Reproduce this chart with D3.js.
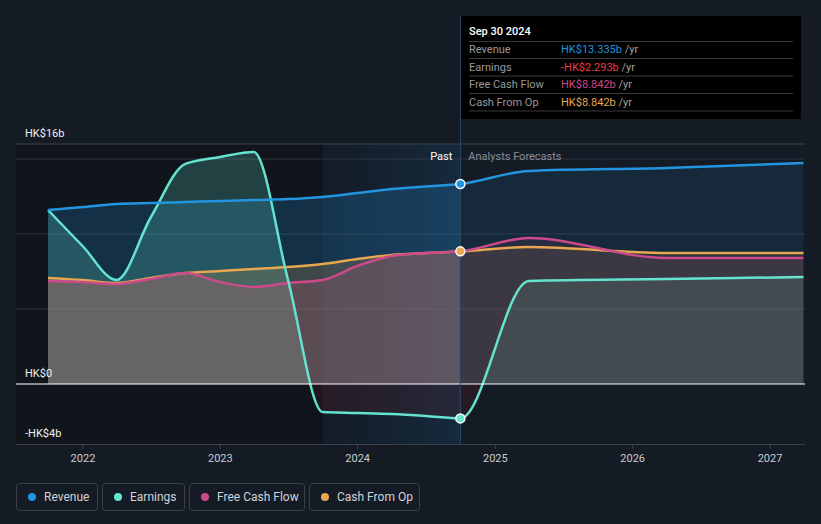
<!DOCTYPE html>
<html><head><meta charset="utf-8">
<script src="https://cdn.jsdelivr.net/npm/d3@7"></script>
<style>
html,body{margin:0;padding:0;background:#151b25;}
svg{display:block;font-family:Roboto,"Open Sans",sans-serif;}
</style></head>
<body><svg id="c" width="821" height="524"></svg>
<script>
const dates = ["2021-09-30","2021-12-31","2022-03-31","2022-06-30","2022-09-30","2022-12-31","2023-03-31","2023-06-30","2023-09-30","2023-12-31","2024-03-31","2024-06-30","2024-09-30","2025-03-31","2026-03-31","2027-03-31"];
const revenue  = [11.6, 11.8, 12.0, 12.07, 12.13, 12.2, 12.27, 12.33, 12.47, 12.73, 13.0, 13.17, 13.335, 14.2, 14.4, 14.73];
const earnings = [11.6, 9.2, 6.93, 11.1, 14.67, 15.13, 15.47, 6.93, -1.87, -1.93, -2.0, -2.13, -2.293, 6.87, 7.0, 7.13];
const fcf      = [6.87, 6.8, 6.67, 7.0, 7.4, 6.8, 6.47, 6.73, 6.93, 7.87, 8.53, 8.73, 8.842, 9.73, 8.4, 8.4];
const cfo      = [7.07, 6.93, 6.73, 7.07, 7.4, 7.53, 7.67, 7.8, 8.0, 8.33, 8.6, 8.73, 8.842, 9.13, 8.73, 8.73];
const yTicks = [16, 0, -4];
const yTickLabels = ["HK$16b", "HK$0", "-HK$4b"];
const gridVals = [15, 10, 5];
const xTickYears = [2022, 2023, 2024, 2025, 2026, 2027];
const seriesNames = ["Revenue", "Earnings", "Free Cash Flow", "Cash From Op"];
const seriesColors = ["#2394df", "#64e3cf", "#cc4a8b", "#e8a64f"];
const tipValues = ["HK$13.335b", "-HK$2.293b", "HK$8.842b", "HK$8.842b"];
const tipColors = ["#2394df", "#ef3a46", "#cc4a8b", "#e8a64f"];
const tipTitle = "Sep 30 2024";
const nowDate = "2024-09-30";
const pastStartDate = "2023-09-30";

const parse = d3.utcParse("%Y-%m-%d");
const svg = d3.select("#c");
const x = d3.scaleUtc().domain([new Date(Date.UTC(2021,6,7)), new Date(Date.UTC(2027,3,4))]).range([16, 805]);
const y = d3.scaleLinear().domain([-4, 16]).range([444, 144]);
const D = dates.map(parse);
const xNow = x(parse(nowDate)), xPast = x(parse(pastStartDate));

const defs = svg.append("defs");
const g1 = defs.append("linearGradient").attr("id","hl").attr("x1",0).attr("x2",1).attr("y1",0).attr("y2",0);
g1.append("stop").attr("offset","0%").attr("stop-color","#1d5a8a").attr("stop-opacity",0.03);
g1.append("stop").attr("offset","100%").attr("stop-color","#1f6aa3").attr("stop-opacity",0.2);
defs.append("clipPath").attr("id","cpPast").append("rect").attr("x",0).attr("y",0).attr("width",xNow).attr("height",524);
defs.append("clipPath").attr("id","cpFut").append("rect").attr("x",xNow).attr("y",0).attr("width",821-xNow).attr("height",524);
defs.append("clipPath").attr("id","cpPos").append("rect").attr("x",0).attr("y",0).attr("width",821).attr("height",y(0));
defs.append("clipPath").attr("id","cpNeg").append("rect").attr("x",0).attr("y",y(0)).attr("width",821).attr("height",200);

// background regions
svg.append("rect").attr("x",16).attr("y",144).attr("width",xPast-16).attr("height",300).attr("fill","#10141b");
svg.append("rect").attr("x",xPast).attr("y",144).attr("width",xNow-xPast).attr("height",300).attr("fill","#131a24");
svg.append("rect").attr("x",xPast).attr("y",144).attr("width",xNow-xPast).attr("height",300).attr("fill","url(#hl)");

// gridlines
svg.append("g").selectAll("line").data(gridVals).join("line")
  .attr("x1",16).attr("x2",805).attr("y1",d=>y(d)).attr("y2",d=>y(d))
  .attr("stroke","#3a414d").attr("stroke-width",1).attr("opacity",0.7);
svg.append("line").attr("x1",16).attr("x2",805).attr("y1",y(16)).attr("y2",y(16)).attr("stroke","#3d434d");

const all = [revenue, earnings, fcf, cfo];
const curve = d3.curveMonotoneX;
const areaGen = d3.area().x((d,i)=>x(D[i])).y0(y(0)).y1(d=>y(d)).curve(curve);
const lineGen = d3.line().x((d,i)=>x(D[i])).y(d=>y(d)).curve(curve);

const pastOp = [0.22, 0.22, 0.2, 0.2];
const futOp = [0.12, 0.12, 0.1, 0.1];
all.forEach((s,k)=>{
  if (k===1) {
    svg.append("g").attr("clip-path","url(#cpPos)").append("path").attr("d",areaGen(s)).attr("fill",seriesColors[k]).attr("opacity",pastOp[k]).attr("clip-path","url(#cpPast)");
    svg.append("g").attr("clip-path","url(#cpPos)").append("path").attr("d",areaGen(s)).attr("fill",seriesColors[k]).attr("opacity",futOp[k]).attr("clip-path","url(#cpFut)");
    svg.append("g").attr("clip-path","url(#cpNeg)").append("path").attr("d",areaGen(s)).attr("fill","#8a1f2a").attr("opacity",0.15);
  } else {
    svg.append("path").attr("d",areaGen(s)).attr("fill",seriesColors[k]).attr("opacity",pastOp[k]).attr("clip-path","url(#cpPast)");
    svg.append("path").attr("d",areaGen(s)).attr("fill",seriesColors[k]).attr("opacity",futOp[k]).attr("clip-path","url(#cpFut)");
  }
});
[3,2,1,0].forEach(k=>{
  svg.append("path").attr("d",lineGen(all[k])).attr("fill","none").attr("stroke",seriesColors[k]).attr("stroke-width",2.5);
});

// zero line
svg.append("line").attr("x1",16).attr("x2",805).attr("y1",y(0)).attr("y2",y(0)).attr("stroke","#ffffff").attr("stroke-width",1.2);

// now line
svg.append("line").attr("x1",xNow).attr("x2",xNow).attr("y1",16).attr("y2",444).attr("stroke","#2c4a66").attr("stroke-width",1);

// dots at now
const iNow = dates.indexOf(nowDate);
[0,3,1].forEach(k=>{
  svg.append("circle").attr("cx",xNow).attr("cy",y(all[k][iNow])).attr("r",4.5).attr("fill",seriesColors[k]).attr("stroke","#ffffff").attr("stroke-width",1.5);
});

// x axis
svg.append("line").attr("x1",16).attr("x2",805).attr("y1",444.5).attr("y2",444.5).attr("stroke","#3d434d");
const xt = svg.append("g").selectAll("g").data(xTickYears).join("g").attr("transform",d=>`translate(${x(new Date(Date.UTC(d,0,1)))},0)`);
xt.append("line").attr("y1",444).attr("y2",449).attr("stroke","#3d434d");
xt.append("text").attr("y",462).attr("text-anchor","middle").attr("fill","#c9ccd1").attr("font-size",11).text(d=>d);

// y labels
svg.append("g").selectAll("text").data(yTicks).join("text")
  .attr("x",25).attr("y",d=>y(d)-7).attr("fill","#f0f0f0").attr("font-size",11).text((d,i)=>yTickLabels[i]);

// Past / forecast labels
svg.append("text").attr("x",xNow-8).attr("y",160).attr("text-anchor","end").attr("fill","#ffffff").attr("font-size",11).text("Past");
svg.append("text").attr("x",xNow+8).attr("y",160).attr("fill","#8a8e95").attr("font-size",11).text("Analysts Forecasts");

// tooltip
const tip = svg.append("g");
tip.append("rect").attr("x",461).attr("y",16).attr("width",340).attr("height",103).attr("fill","#000000");
tip.append("text").attr("x",469).attr("y",35).attr("fill","#ffffff").attr("font-size",11).attr("font-weight",500).text(tipTitle);
const sepY = [41.5, 58.5, 76, 93.5, 111];
tip.selectAll("line").data(sepY).join("line").attr("x1",469).attr("x2",793).attr("y1",d=>d).attr("y2",d=>d).attr("stroke","#3a3a3a");
seriesNames.forEach((n,i)=>{
  const yy = 53 + i*17.5;
  tip.append("text").attr("x",469).attr("y",yy).attr("fill","#9a9a9a").attr("font-size",11).text(n);
  const t = tip.append("text").attr("x",561).attr("y",yy).attr("font-size",11);
  t.append("tspan").attr("fill",tipColors[i]).text(tipValues[i]);
  t.append("tspan").attr("fill","#a0a0a0").text(" /yr");
});

// legend
const legX = [16, 102, 189, 309], legW = [81, 82, 115, 110];
seriesNames.forEach((n,i)=>{
  const lg = svg.append("g").attr("transform",`translate(${legX[i]},483)`);
  lg.append("rect").attr("x",0.5).attr("y",0.5).attr("width",legW[i]).attr("height",27).attr("rx",3).attr("fill","none").attr("stroke","#3a3f49");
  lg.append("circle").attr("cx",16).attr("cy",14).attr("r",4).attr("fill",seriesColors[i]);
  lg.append("text").attr("x",28).attr("y",18).attr("fill","#d0d3d8").attr("font-size",12).text(n);
});
</script></body></html>
